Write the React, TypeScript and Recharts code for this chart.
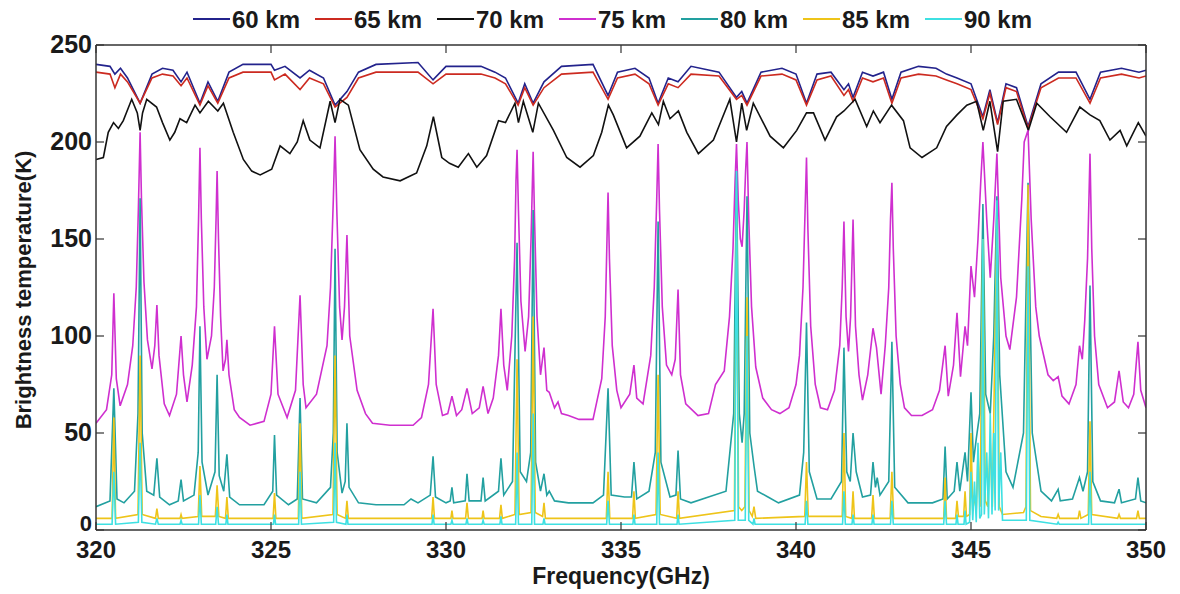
import React from 'react';
import { LineChart, Line, XAxis, YAxis } from 'recharts';

// frequency (GHz) / brightness temperature (K) pairs
const km60 = [
  [320.0, 240], [320.4, 239], [320.54, 235], [320.7, 238], [320.9, 233], [321.26, 220], [321.6, 235], [321.9, 238],
  [322.2, 237], [322.43, 231], [322.6, 236], [322.97, 220], [323.2, 231], [323.48, 221], [323.8, 236], [324.2, 240],
  [325.0, 240], [325.1, 237], [325.4, 239], [325.83, 233], [326.1, 237], [326.5, 233], [326.83, 219], [327.17, 226],
  [327.5, 236], [328.0, 240], [329.2, 241], [329.63, 232], [330.0, 239], [331.0, 239], [331.4, 236], [331.7, 233],
  [332.06, 220], [332.25, 230], [332.49, 220], [332.8, 231], [333.3, 239], [334.2, 240], [334.63, 224], [334.9, 236],
  [335.4, 238], [335.8, 233], [336.06, 220], [336.35, 233], [336.63, 231], [337.0, 239], [337.8, 236], [338.3, 223],
  [338.45, 226], [338.6, 220], [339.0, 236], [339.6, 238], [340.0, 235], [340.3, 220], [340.6, 235], [341.0, 236],
  [341.37, 227], [341.5, 230], [341.63, 223], [341.9, 236], [342.2, 234], [342.5, 236], [342.74, 222], [343.0, 236],
  [343.5, 239], [344.0, 238], [344.3, 235], [344.6, 233], [345.0, 230], [345.34, 213], [345.54, 227], [345.76, 210],
  [346.0, 230], [346.3, 228], [346.63, 208], [347.0, 230], [347.5, 236], [348.0, 236], [348.4, 222], [348.7, 236],
  [349.3, 238], [349.8, 236], [350.0, 237],
];

const km65 = [
  [320.0, 236], [320.4, 235], [320.54, 228], [320.7, 235], [320.9, 231], [321.26, 220], [321.6, 233], [321.9, 235],
  [322.2, 234], [322.43, 229], [322.6, 233], [322.97, 219], [323.2, 229], [323.48, 220], [323.8, 233], [324.2, 236],
  [325.0, 236], [325.1, 232], [325.4, 235], [325.83, 227], [326.1, 233], [326.5, 230], [326.83, 218], [327.17, 223],
  [327.5, 233], [328.0, 236], [329.2, 236], [329.63, 230], [330.0, 235], [331.0, 235], [331.4, 233], [331.7, 230],
  [332.06, 219], [332.25, 228], [332.49, 219], [332.8, 228], [333.3, 235], [334.2, 236], [334.63, 222], [334.9, 233],
  [335.4, 235], [335.8, 230], [336.06, 219], [336.35, 230], [336.63, 228], [337.0, 235], [337.8, 234], [338.3, 222],
  [338.45, 224], [338.6, 219], [339.0, 234], [339.6, 235], [340.0, 232], [340.3, 219], [340.6, 232], [341.0, 234],
  [341.37, 224], [341.5, 227], [341.63, 221], [341.9, 233], [342.2, 231], [342.5, 233], [342.74, 220], [343.0, 233],
  [343.5, 235], [344.0, 234], [344.3, 232], [344.6, 230], [345.0, 227], [345.34, 212], [345.54, 225], [345.76, 209],
  [346.0, 228], [346.3, 226], [346.63, 207], [347.0, 228], [347.5, 233], [348.0, 233], [348.4, 220], [348.7, 233],
  [349.3, 235], [349.8, 233], [350.0, 234],
];

const km70 = [
  [320.0, 191], [320.21, 192], [320.35, 205], [320.5, 210], [320.64, 207], [320.78, 211], [321.02, 222], [321.18, 215],
  [321.26, 206], [321.33, 215], [321.45, 222], [321.73, 218], [321.9, 210], [322.11, 201], [322.25, 205], [322.4, 212],
  [322.59, 210], [322.83, 219], [322.97, 215], [323.21, 221], [323.48, 216], [323.64, 220], [323.92, 205], [324.21, 191],
  [324.45, 185], [324.69, 183], [325.02, 186], [325.26, 198], [325.54, 194], [325.75, 200], [325.92, 211], [326.11, 201],
  [326.4, 197], [326.69, 221], [326.83, 210], [326.97, 222], [327.21, 219], [327.54, 196], [327.92, 186], [328.2, 182],
  [328.69, 180], [329.16, 184], [329.45, 198], [329.64, 213], [329.88, 192], [330.1, 189], [330.35, 187], [330.64, 194],
  [330.88, 187], [331.16, 193], [331.5, 211], [331.7, 210], [331.97, 220], [332.07, 210], [332.21, 221], [332.48, 205],
  [332.64, 220], [333.07, 206], [333.45, 192], [333.83, 187], [334.21, 193], [334.45, 205], [334.64, 219], [334.78, 214],
  [335.16, 197], [335.54, 203], [335.88, 215], [336.07, 209], [336.21, 221], [336.4, 212], [336.64, 216], [336.88, 205],
  [337.21, 194], [337.64, 201], [338.11, 222], [338.3, 200], [338.45, 220], [338.59, 206], [338.78, 220], [339.26, 203],
  [339.64, 197], [340.02, 206], [340.3, 215], [340.5, 215], [340.83, 201], [341.16, 213], [341.37, 216], [341.69, 222],
  [342.02, 208], [342.21, 216], [342.4, 210], [342.73, 219], [343.07, 211], [343.26, 197], [343.6, 192], [344.02, 197],
  [344.3, 208], [344.6, 214], [344.88, 219], [345.16, 221], [345.35, 206], [345.54, 221], [345.76, 195], [345.92, 221],
  [346.3, 222], [346.64, 206], [346.88, 220], [347.26, 213], [347.73, 205], [348.11, 218], [348.4, 214], [348.68, 211],
  [348.97, 201], [349.26, 206], [349.45, 198], [349.78, 210], [350.0, 203],
];

const km75 = [
  [320.0, 55], [320.3, 62], [320.45, 80], [320.51, 122], [320.58, 78], [320.69, 64], [320.9, 75], [321.05, 95],
  [321.15, 125], [321.21, 165], [321.26, 205], [321.3, 170], [321.37, 128], [321.47, 98], [321.6, 83], [321.68, 95],
  [321.74, 116], [321.8, 90], [321.95, 65], [322.1, 59], [322.3, 70], [322.43, 100], [322.5, 80], [322.6, 66],
  [322.75, 85], [322.87, 115], [322.93, 160], [322.97, 197], [323.01, 160], [323.08, 115], [323.17, 88], [323.3, 100],
  [323.38, 125], [323.43, 160], [323.46, 185], [323.5, 150], [323.56, 110], [323.63, 82], [323.7, 88], [323.74, 98],
  [323.8, 80], [323.95, 62], [324.1, 58], [324.4, 54], [324.8, 56], [325.0, 70], [325.1, 105], [325.2, 70],
  [325.46, 58], [325.7, 72], [325.83, 121], [325.92, 75], [326.0, 63], [326.3, 70], [326.6, 95], [326.7, 125],
  [326.78, 170], [326.83, 203], [326.88, 165], [326.96, 115], [327.03, 98], [327.1, 115], [327.17, 152], [327.25, 100],
  [327.46, 72], [327.7, 60], [327.9, 55], [328.4, 54], [329.06, 54], [329.3, 58], [329.5, 75], [329.63, 114],
  [329.72, 75], [329.9, 59], [330.05, 60], [330.17, 69], [330.3, 59], [330.45, 62], [330.6, 73], [330.75, 60],
  [330.95, 63], [331.06, 74], [331.2, 60], [331.35, 68], [331.5, 90], [331.57, 114], [331.65, 85], [331.75, 72],
  [331.88, 100], [331.96, 140], [332.0, 180], [332.03, 196], [332.07, 165], [332.14, 118], [332.26, 92], [332.36, 110],
  [332.43, 150], [332.49, 195], [332.53, 160], [332.6, 110], [332.7, 80], [332.8, 94], [332.88, 72], [332.95, 71],
  [333.1, 63], [333.2, 66], [333.3, 60], [333.5, 59], [333.8, 57], [334.2, 57], [334.45, 78], [334.55, 110],
  [334.6, 150], [334.63, 174], [334.67, 140], [334.75, 95], [334.88, 72], [335.0, 63], [335.25, 70], [335.37, 85],
  [335.45, 68], [335.63, 65], [335.85, 90], [335.95, 125], [336.02, 170], [336.06, 199], [336.1, 165], [336.18, 115],
  [336.3, 85], [336.45, 80], [336.55, 88], [336.63, 124], [336.7, 80], [336.85, 65], [337.2, 59], [337.5, 60],
  [337.7, 75], [337.95, 82], [338.1, 110], [338.2, 145], [338.26, 180], [338.3, 199], [338.35, 170], [338.41, 150],
  [338.46, 146], [338.52, 165], [338.56, 185], [338.6, 200], [338.65, 160], [338.73, 115], [338.85, 84], [339.05, 68],
  [339.3, 62], [339.54, 60], [339.8, 63], [340.0, 75], [340.1, 90], [340.2, 125], [340.26, 165], [340.3, 192],
  [340.34, 155], [340.42, 105], [340.55, 75], [340.7, 63], [340.9, 62], [341.1, 72], [341.25, 95], [341.32, 125],
  [341.37, 159], [341.43, 110], [341.5, 92], [341.56, 110], [341.63, 160], [341.7, 105], [341.8, 80], [341.9, 67],
  [342.05, 80], [342.2, 104], [342.3, 94], [342.43, 70], [342.55, 95], [342.65, 125], [342.7, 160], [342.74, 179],
  [342.78, 145], [342.86, 100], [342.98, 75], [343.1, 63], [343.3, 59], [343.6, 59], [343.9, 62], [344.1, 72],
  [344.26, 95], [344.35, 69], [344.5, 85], [344.6, 112], [344.7, 79], [344.83, 105], [344.9, 95], [345.0, 136],
  [345.1, 120], [345.2, 150], [345.28, 180], [345.34, 200], [345.45, 160], [345.55, 130], [345.65, 160], [345.74, 194],
  [345.85, 130], [346.0, 100], [346.11, 93], [346.3, 120], [346.45, 170], [346.52, 200], [346.63, 206], [346.72, 160],
  [346.85, 115], [346.95, 100], [347.2, 80], [347.35, 77], [347.49, 79], [347.6, 69], [347.8, 65], [348.0, 75],
  [348.1, 95], [348.18, 88], [348.25, 108], [348.33, 140], [348.4, 194], [348.45, 145], [348.53, 100], [348.65, 75],
  [348.9, 63], [349.1, 66], [349.23, 82], [349.35, 66], [349.5, 63], [349.65, 70], [349.77, 97], [349.85, 72],
  [350.0, 63],
];

const km80 = [
  [320.0, 12], [320.4, 15], [320.51, 73], [320.6, 16], [320.8, 14], [321.1, 20], [321.2, 60], [321.26, 171],
  [321.32, 50], [321.45, 20], [321.65, 18], [321.74, 37], [321.82, 17], [322.1, 13], [322.35, 15], [322.43, 26],
  [322.5, 15], [322.8, 18], [322.92, 40], [322.97, 105], [323.03, 35], [323.2, 18], [323.4, 30], [323.46, 80],
  [323.52, 28], [323.65, 20], [323.74, 39], [323.82, 17], [324.1, 13], [324.8, 13], [325.05, 20], [325.1, 49],
  [325.16, 18], [325.5, 13], [325.75, 16], [325.83, 68], [325.9, 16], [326.3, 14], [326.7, 22], [326.78, 50],
  [326.83, 145], [326.89, 40], [327.03, 19], [327.12, 25], [327.17, 55], [327.23, 22], [327.5, 14], [328.0, 13],
  [328.8, 13], [329.0, 16], [329.2, 14], [329.55, 18], [329.63, 38], [329.7, 17], [330.0, 14], [330.12, 15],
  [330.17, 22], [330.22, 14], [330.55, 15], [330.6, 29], [330.66, 15], [331.0, 15], [331.06, 27], [331.12, 15],
  [331.5, 20], [331.57, 37], [331.65, 18], [331.9, 25], [332.03, 148], [332.12, 30], [332.3, 25], [332.42, 40],
  [332.49, 165], [332.56, 35], [332.7, 20], [332.8, 29], [332.88, 18], [332.95, 20], [333.1, 15], [333.5, 14],
  [334.2, 14], [334.5, 18], [334.63, 73], [334.72, 18], [335.1, 17], [335.3, 17], [335.37, 35], [335.45, 16],
  [335.8, 20], [335.98, 40], [336.06, 159], [336.14, 35], [336.4, 17], [336.57, 18], [336.63, 41], [336.7, 16],
  [337.0, 14], [337.5, 17], [338.0, 20], [338.22, 60], [338.3, 185], [338.38, 60], [338.46, 45], [338.52, 60],
  [338.6, 172], [338.68, 50], [338.8, 33], [338.9, 20], [339.2, 17], [339.5, 14], [340.1, 18], [340.22, 40],
  [340.3, 107], [340.38, 30], [340.6, 16], [341.0, 16], [341.3, 25], [341.37, 94], [341.45, 30], [341.55, 25],
  [341.63, 50], [341.72, 30], [341.9, 17], [342.13, 18], [342.2, 35], [342.27, 22], [342.32, 27], [342.4, 18],
  [342.65, 25], [342.74, 97], [342.82, 22], [343.2, 14], [343.9, 14], [344.2, 16], [344.26, 43], [344.32, 16],
  [344.52, 20], [344.6, 35], [344.68, 20], [344.83, 40], [344.9, 25], [345.0, 71], [345.07, 35], [345.15, 47],
  [345.25, 60], [345.34, 168], [345.42, 70], [345.55, 60], [345.65, 100], [345.74, 172], [345.82, 80], [346.0, 30],
  [346.2, 22], [346.5, 50], [346.63, 179], [346.75, 50], [347.0, 20], [347.3, 15], [347.49, 21], [347.55, 15],
  [347.9, 16], [348.1, 27], [348.2, 20], [348.33, 30], [348.4, 126], [348.48, 25], [348.7, 15], [349.1, 14],
  [349.23, 21], [349.3, 14], [349.7, 16], [349.77, 27], [349.85, 15], [350.0, 14],
];

const km85 = [
  [320.0, 6], [320.46, 6], [320.51, 58], [320.56, 6], [321.2, 8], [321.26, 90], [321.32, 8], [321.7, 6],
  [321.74, 11], [321.78, 6], [322.4, 6], [322.43, 8], [322.46, 6], [322.92, 7], [322.97, 33], [323.02, 7],
  [323.41, 7], [323.46, 23], [323.51, 7], [323.7, 6], [323.74, 17], [323.78, 6], [325.06, 6], [325.1, 19],
  [325.14, 6], [325.78, 6], [325.83, 55], [325.88, 6], [326.77, 8], [326.83, 90], [326.89, 8], [327.13, 6],
  [327.17, 15], [327.21, 6], [329.59, 6], [329.63, 17], [329.67, 6], [330.14, 6], [330.17, 10], [330.2, 6],
  [330.56, 6], [330.6, 14], [330.64, 6], [331.03, 6], [331.06, 10], [331.09, 6], [331.53, 6], [331.57, 13],
  [331.61, 6], [331.97, 8], [332.03, 88], [332.09, 8], [332.43, 9], [332.49, 110], [332.55, 9], [332.76, 7],
  [332.8, 14], [332.84, 6], [334.58, 6], [334.63, 30], [334.68, 6], [335.33, 6], [335.37, 20], [335.41, 6],
  [336.0, 8], [336.06, 80], [336.12, 8], [336.59, 6], [336.63, 20], [336.67, 6], [338.24, 10], [338.3, 160],
  [338.36, 12], [338.45, 10], [338.54, 12], [338.6, 120], [338.66, 10], [338.75, 7], [338.8, 12], [338.85, 6],
  [340.25, 7], [340.3, 35], [340.35, 7], [341.32, 7], [341.37, 50], [341.42, 7], [341.59, 6], [341.63, 20],
  [341.67, 6], [342.16, 6], [342.2, 18], [342.24, 6], [342.69, 6], [342.74, 30], [342.79, 6], [344.22, 6],
  [344.26, 27], [344.3, 6], [344.56, 6], [344.6, 15], [344.64, 7], [344.79, 7], [344.83, 20], [344.87, 7],
  [344.96, 8], [345.0, 50], [345.05, 10], [345.1, 18], [345.15, 10], [345.2, 40], [345.26, 12], [345.34, 150],
  [345.41, 15], [345.48, 12], [345.55, 45], [345.61, 12], [345.74, 160], [345.81, 12], [345.9, 8], [346.5, 9],
  [346.57, 12], [346.63, 178], [346.7, 10], [347.0, 7], [347.45, 6], [347.49, 8], [347.53, 6], [348.06, 6],
  [348.1, 10], [348.14, 6], [348.35, 8], [348.4, 56], [348.45, 8], [349.19, 6], [349.23, 8], [349.27, 6],
  [349.73, 6], [349.77, 10], [349.81, 6], [350.0, 6],
];

const km90 = [
  [320.0, 3], [320.46, 3], [320.51, 30], [320.56, 3], [321.21, 4], [321.26, 45], [321.31, 4], [321.7, 3],
  [321.74, 6], [321.78, 3], [322.4, 3], [322.43, 5], [322.46, 3], [322.93, 3], [322.97, 18], [323.01, 3],
  [323.42, 3], [323.46, 12], [323.5, 3], [323.71, 3], [323.74, 8], [323.77, 3], [325.07, 3], [325.1, 8],
  [325.13, 3], [325.79, 3], [325.83, 30], [325.87, 3], [326.79, 4], [326.83, 45], [326.87, 4], [327.14, 3],
  [327.17, 8], [327.2, 3], [329.6, 3], [329.63, 8], [329.66, 3], [330.14, 3], [330.17, 5], [330.2, 3],
  [330.57, 3], [330.6, 6], [330.63, 3], [331.03, 3], [331.06, 5], [331.09, 3], [331.54, 3], [331.57, 7],
  [331.6, 3], [331.99, 3], [332.03, 40], [332.07, 3], [332.45, 3], [332.49, 60], [332.53, 3], [332.77, 3],
  [332.8, 6], [332.83, 3], [334.59, 3], [334.63, 15], [334.67, 3], [335.34, 3], [335.37, 8], [335.4, 3],
  [336.02, 3], [336.06, 40], [336.1, 3], [336.6, 3], [336.63, 8], [336.66, 3], [338.25, 5], [338.3, 185],
  [338.35, 5], [338.55, 5], [338.6, 100], [338.65, 5], [338.77, 3], [338.8, 6], [338.83, 3], [340.26, 3],
  [340.3, 15], [340.34, 3], [341.33, 3], [341.37, 20], [341.41, 3], [341.6, 3], [341.63, 8], [341.66, 3],
  [342.17, 3], [342.2, 8], [342.23, 3], [342.7, 3], [342.74, 15], [342.78, 3], [344.22, 3], [344.26, 15],
  [344.3, 3], [344.57, 3], [344.6, 8], [344.63, 3], [344.8, 3], [344.83, 10], [344.86, 3], [344.96, 4],
  [345.0, 30], [345.05, 5], [345.1, 25], [345.15, 4], [345.2, 45], [345.25, 6], [345.3, 8], [345.34, 150],
  [345.38, 8], [345.45, 40], [345.5, 6], [345.55, 60], [345.6, 8], [345.65, 50], [345.69, 10], [345.74, 170],
  [345.79, 10], [345.85, 40], [345.9, 5], [346.58, 5], [346.63, 136], [346.68, 5], [347.46, 3], [347.49, 4],
  [347.52, 3], [348.36, 3], [348.4, 30], [348.44, 3], [350.0, 3],
];

const xTicks = [320, 325, 330, 335, 340, 345, 350];
const yTicks = [0, 50, 100, 150, 200, 250];

const SERIES = [
  { name: '60 km', pts: km60, color: '#23238c' },
  { name: '65 km', pts: km65, color: '#cc2a20' },
  { name: '70 km', pts: km70, color: '#111111' },
  { name: '75 km', pts: km75, color: '#cf2fcf' },
  { name: '80 km', pts: km80, color: '#22a0a0' },
  { name: '85 km', pts: km85, color: '#eec419' },
  { name: '90 km', pts: km90, color: '#3ee0e2' },
];

const toPts = (a: number[][]) => a.map(([f, v]) => ({ f, v }));

const FONT = "'Liberation Sans', Arial, sans-serif";
const AXIS = '#333';

const BottomTick = ({ x, y, payload }: any) => (
  <g>
    <line x1={x} y1={y} x2={x} y2={y - 8} stroke={AXIS} strokeWidth={1.2} />
    <text x={x} y={y + 28} textAnchor="middle" fontFamily={FONT} fontWeight="bold" fontSize={24} fill="#1a1a1a">
      {payload.value}
    </text>
  </g>
);

// the "0" label sits a little higher so it clears the 320 label
const LeftTick = ({ x, y, payload }: any) => (
  <g>
    <line x1={x} y1={y} x2={x + 8} y2={y} stroke={AXIS} strokeWidth={1.2} />
    <text
      x={x - 4}
      y={payload.value === 0 ? y + 1 : y + 8}
      textAnchor="end"
      fontFamily={FONT}
      fontWeight="bold"
      fontSize={payload.value === 0 ? 22 : 25}
      fill="#1a1a1a"
    >
      {payload.value}
    </text>
  </g>
);

const TopTick = ({ x, y }: any) => <line x1={x} y1={y} x2={x} y2={y + 8} stroke={AXIS} strokeWidth={1.2} />;
const RightTick = ({ x, y }: any) => <line x1={x} y1={y} x2={x - 8} y2={y} stroke={AXIS} strokeWidth={1.2} />;

export default function App() {
  return (
    <div style={{ position: 'absolute', left: 0, top: 0, width: 1180, height: 594, background: '#fff', fontFamily: FONT }}>
      {/* legend row above the frame */}
      {SERIES.map((s, i) => (
        <div key={s.name} style={{ position: 'absolute', top: 5, left: 193 + i * 122, height: 30, width: 122 }}>
          <div style={{ position: 'absolute', left: 0, top: 13, width: 37, height: 2, background: s.color }} />
          <div style={{ position: 'absolute', left: 39, top: 1, fontSize: 24, fontWeight: 'bold', color: '#1a1a1a', whiteSpace: 'nowrap' }}>
            {s.name}
          </div>
        </div>
      ))}

      <LineChart width={1180} height={594} margin={{ top: 44, right: 33, bottom: 63, left: 95 }}>
        <XAxis
          dataKey="f"
          type="number"
          domain={[320, 350]}
          ticks={xTicks}
          interval={0}
          allowDataOverflow
          height={1}
          tickSize={0}
          tickMargin={0}
          tickLine={false}
          tick={(p: any) => <BottomTick {...p} />}
          axisLine={{ stroke: AXIS, strokeWidth: 1.5 }}
        />
        <XAxis
          xAxisId="top"
          orientation="top"
          dataKey="f"
          type="number"
          domain={[320, 350]}
          ticks={xTicks}
          interval={0}
          allowDataOverflow
          height={1}
          tickSize={0}
          tickMargin={0}
          tickLine={false}
          tick={(p: any) => <TopTick {...p} />}
          axisLine={{ stroke: AXIS, strokeWidth: 1.5 }}
        />
        <YAxis
          type="number"
          domain={[0, 250]}
          ticks={yTicks}
          interval={0}
          allowDataOverflow
          width={1}
          tickSize={0}
          tickMargin={0}
          tickLine={false}
          tick={(p: any) => <LeftTick {...p} />}
          axisLine={{ stroke: AXIS, strokeWidth: 1.5 }}
        />
        <YAxis
          yAxisId="right"
          orientation="right"
          type="number"
          domain={[0, 250]}
          ticks={yTicks}
          interval={0}
          allowDataOverflow
          width={1}
          tickSize={0}
          tickMargin={0}
          tickLine={false}
          tick={(p: any) => <RightTick {...p} />}
          axisLine={{ stroke: AXIS, strokeWidth: 1.5 }}
        />
        {SERIES.map((s) => (
          <Line
            key={s.name}
            name={s.name}
            data={toPts(s.pts)}
            dataKey="v"
            type="linear"
            stroke={s.color}
            strokeWidth={1.6}
            dot={false}
            activeDot={false}
            isAnimationActive={false}
          />
        ))}
      </LineChart>

      <div
        style={{
          position: 'absolute',
          left: 24 - 200,
          top: 290 - 15,
          width: 400,
          height: 30,
          lineHeight: '30px',
          textAlign: 'center',
          transform: 'rotate(-90deg)',
          fontSize: 22,
          fontWeight: 'bold',
          color: '#1a1a1a',
        }}
      >
        Brightness temperature(K)
      </div>
      <div
        style={{
          position: 'absolute',
          left: 421,
          top: 563,
          width: 400,
          textAlign: 'center',
          fontSize: 23,
          fontWeight: 'bold',
          color: '#1a1a1a',
        }}
      >
        Frequency(GHz)
      </div>
    </div>
  );
}
